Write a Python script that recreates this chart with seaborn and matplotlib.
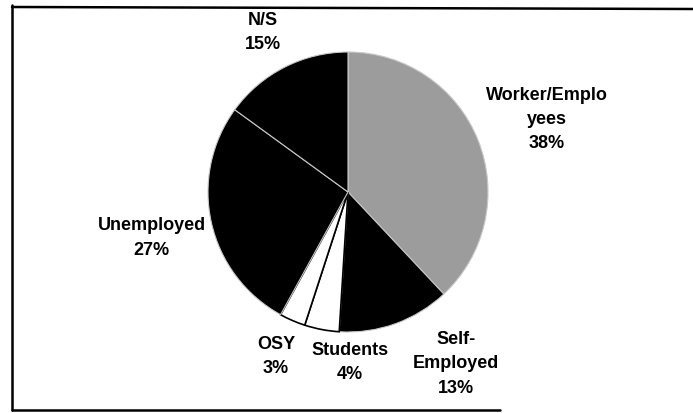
import matplotlib
matplotlib.use('Agg')
import matplotlib.pyplot as plt
import numpy as np
import seaborn as sns

# ─── Data ────────────────────────────────────────────────────────────────────
categories = ['Worker/Emplo\nyees', 'Self-\nEmployed', 'Students', 'OSY', 'Unemployed', 'N/S']
shares = [38, 13, 4, 3, 27, 15]
colors = ['#9c9c9c', '#000000', '#ffffff', '#ffffff', '#000000', '#000000']

# label placement: (distance in radii, angle in degrees)
label_layout = [(1.51, 20.1), (1.45, -57.9), (1.22, -89.3), (1.28, -113.7), (1.44, 193.2), (1.29, 118.1)]

sns.set_theme(style='white')
plt.rcParams['font.family'] = ['Liberation Sans', 'DejaVu Sans']

W, H, DPI = 693, 413, 100
cx, cy, R = 348, 192, 140  # pie centre / radius in pixels

fig = plt.figure(figsize=(W / DPI, H / DPI), dpi=DPI)
ax = fig.add_axes([0, 0, 1, 1])

wedges, _ = ax.pie(
    shares, colors=colors, startangle=90, counterclock=False,
    radius=1.0, wedgeprops=dict(edgecolor='#c8c8c8', linewidth=0.8),
)
for w, c in zip(wedges, colors):
    if c == '#ffffff':
        w.set_edgecolor('black')
        w.set_linewidth(1.2)

for name, pct, (d, a) in zip(categories, shares, label_layout):
    t = np.deg2rad(a)
    ax.text(d * np.cos(t), d * np.sin(t), f'{name}\n{pct}%',
            ha='center', va='center', fontsize=13, fontweight='bold',
            linespacing=1.55, color='black')

ax.set_aspect('auto')
ax.set_xlim(-cx / R, (W - cx) / R)
ax.set_ylim(-(H - cy) / R, cy / R)
ax.axis('off')

# frame (left, top, partial bottom) like the scanned original
def px(x, y):
    return x / W, 1 - y / H

for (x0, y0), (x1, y1) in [((12, 5), (12, 410)), ((12, 7), (693, 9)), ((12, 410), (500, 410))]:
    a0, b0 = px(x0, y0)
    a1, b1 = px(x1, y1)
    fig.add_artist(plt.Line2D([a0, a1], [b0, b1], color='black', linewidth=1.8,
                              transform=fig.transFigure))

plt.savefig('out.png', dpi=DPI)
plt.close()
